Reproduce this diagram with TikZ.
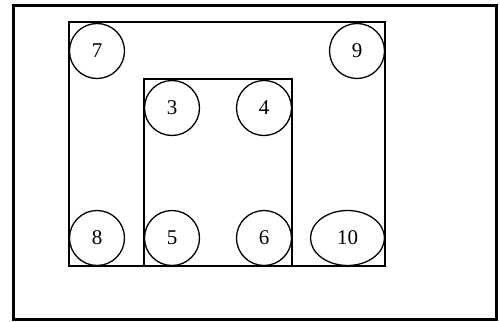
\documentclass[tikz,border=0pt]{standalone}
\usepackage{fontspec}
\setmainfont{Liberation Serif}
\usetikzlibrary{shapes.geometric}
\tikzset{
  kor/.style={circle,draw,line width=1.3pt,minimum size=55pt,inner sep=0pt,font=\fontsize{21}{24}\selectfont},
  tojas/.style={ellipse,draw,line width=1.3pt,minimum width=74pt,minimum height=55pt,inner sep=0pt,font=\fontsize{21}{24}\selectfont},
  keret/.style={draw,line width=2pt},
  kulso/.style={draw,line width=3pt},
}
\begin{document}
\begin{tikzpicture}[x=1pt,y=-1pt]
  \useasboundingbox (0,0) rectangle (500,321);
  % frames
  \draw[kulso] (13.5,5.5) rectangle (496.5,319.5);
  \draw[keret] (69,22) rectangle (385,266);
  \draw[keret] (144,79) rectangle (292,266);
  % rooms
  \node[kor] (n7) at (97,51) {7};
  \node[kor] (n9) at (357,51) {9};
  \node[kor] (n3) at (172,108) {3};
  \node[kor] (n4) at (264,108) {4};
  \node[kor] (n8) at (97,238) {8};
  \node[kor] (n5) at (172,238) {5};
  \node[kor] (n6) at (264,238) {6};
  \node[tojas] (n10) at (347.5,238) {10};
\end{tikzpicture}
\end{document}
